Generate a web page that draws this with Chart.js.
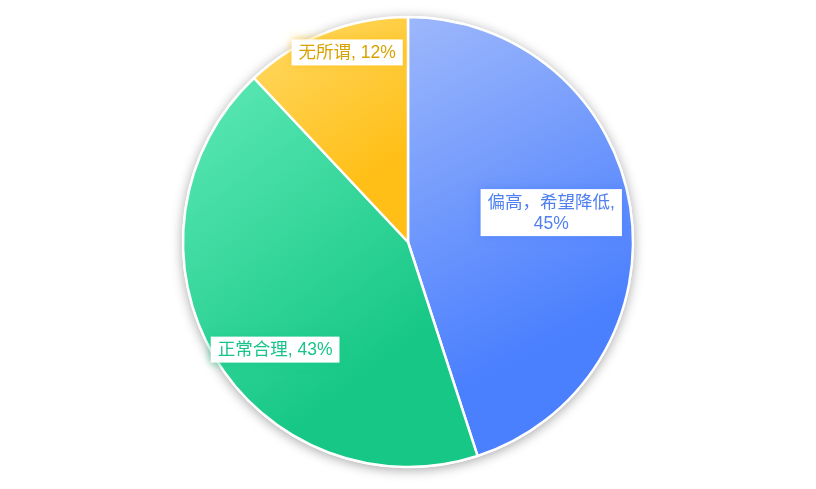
<!DOCTYPE html>
<html>
<head>
<meta charset="utf-8">
<script src="https://cdn.jsdelivr.net/npm/chart.js@4.4.0/dist/chart.umd.min.js"></script>
<style>
  html, body { margin: 0; padding: 0; background: #fff; }
  #wrap { width: 816px; height: 489px; }
</style>
</head>
<body>
<div id="wrap"><canvas id="chart"></canvas></div>
<script>
const categories = ['偏高，希望降低', '正常合理', '无所谓'];
const values = [45, 43, 12];

// gradient stops (light -> dark) and label text colours per slice
const gradFrom = ['#9db7fb', '#5ee9b7', '#ffda68'];
const gradTo = ['#4a7ffe', '#16c785', '#ffbf17'];
const textColors = ['#4f7ff0', '#19c48a', '#d8a300'];
const shadowColors = ['rgba(74,127,254,0.7)', 'rgba(22,199,133,0.7)', 'rgba(255,191,23,0.7)'];
const labelRadius = [0.65, 0.76, 0.885];
const labelShift = [-2.6, -8.4, 3.8];

const FONT = '"Liberation Sans", "Noto Sans CJK SC", sans-serif';

const arcProps = (arc) => arc.getProps(['x', 'y', 'startAngle', 'endAngle', 'outerRadius'], true);

// linear gradient across the bounding box of a slice
const sliceGradient = (c, arc, i) => {
    const { x, y, startAngle, endAngle, outerRadius } = arcProps(arc);
    const pts = [[x, y], [x + outerRadius * Math.cos(startAngle), y + outerRadius * Math.sin(startAngle)],
        [x + outerRadius * Math.cos(endAngle), y + outerRadius * Math.sin(endAngle)]];
    for (let k = -4; k <= 8; k++) {
        const a = k * Math.PI / 2;
        if (a > startAngle && a < endAngle) pts.push([x + outerRadius * Math.cos(a), y + outerRadius * Math.sin(a)]);
    }
    const xs = pts.map(p => p[0]), ys = pts.map(p => p[1]);
    const g = c.createLinearGradient(Math.min(...xs), Math.min(...ys), Math.max(...xs), Math.max(...ys));
    g.addColorStop(0, gradFrom[i]);
    g.addColorStop(0.72, gradTo[i]);
    g.addColorStop(1, gradTo[i]);
    return g;
};

const pieShadow = {
    id: 'pieShadow',
    beforeDatasetsDraw(chart) {
        const arcs = chart.getDatasetMeta(0).data;
        if (!arcs.length) return;
        const c = chart.ctx;
        arcs.forEach((arc, i) => {
            arc.options.backgroundColor = sliceGradient(c, arc, i);
        });
        const arc = arcs[0];
        c.save();
        c.shadowColor = 'rgba(0,0,0,0.35)';
        c.shadowBlur = 12;
        c.shadowOffsetY = 2;
        c.fillStyle = '#fff';
        c.beginPath();
        c.arc(arc.x, arc.y, arc.outerRadius + 1, 0, Math.PI * 2);
        c.fill();
        c.restore();
    }
};

const sliceLabels = {
    id: 'sliceLabels',
    afterDatasetsDraw(chart) {
        const c = chart.ctx;
        const meta = chart.getDatasetMeta(0);
        const total = values.reduce((a, b) => a + b, 0);
        meta.data.forEach((arc, i) => {
            const { x, y, startAngle, endAngle, outerRadius } = arcProps(arc);
            const mid = (startAngle + endAngle) / 2 + labelShift[i] * Math.PI / 180;
            const cx = x + Math.cos(mid) * outerRadius * labelRadius[i];
            const cy = y + Math.sin(mid) * outerRadius * labelRadius[i];
            const pct = Math.round(values[i] / total * 100) + '%';
            const name = categories[i];
            const lines = name.length > 5 ? [name + ',', pct] : [name + ', ' + pct];
            c.save();
            c.font = '17.5px ' + FONT;
            const lh = 21;
            const w = Math.max(...lines.map(l => c.measureText(l).width)) + 14;
            const h = lines.length * lh + 5;
            c.shadowColor = shadowColors[i];
            c.shadowBlur = 8;
            c.fillStyle = '#fff';
            c.fillRect(cx - w / 2, cy - h / 2, w, h);
            c.shadowColor = 'transparent';
            c.shadowBlur = 0;
            c.fillStyle = textColors[i];
            c.textAlign = 'center';
            c.textBaseline = 'middle';
            lines.forEach((l, j) => {
                c.fillText(l, cx, cy - h / 2 + 2.5 + lh * j + lh / 2 + 1);
            });
            c.restore();
        });
    }
};

const chart = new Chart(document.querySelector('#chart'), {
    type: 'pie',
    data: {
        labels: categories,
        datasets: [{
            data: values,
            backgroundColor: gradTo,
            borderColor: '#fff',
            borderWidth: 2.5
        }]
    },
    options: {
        responsive: true,
        maintainAspectRatio: false,
        animation: false,
        radius: 225,
        layout: {
            padding: { top: 0, bottom: 5 }
        },
        plugins: {
            legend: { display: false },
            tooltip: { enabled: false }
        }
    },
    plugins: [pieShadow, sliceLabels]
});
</script>
</body>
</html>
